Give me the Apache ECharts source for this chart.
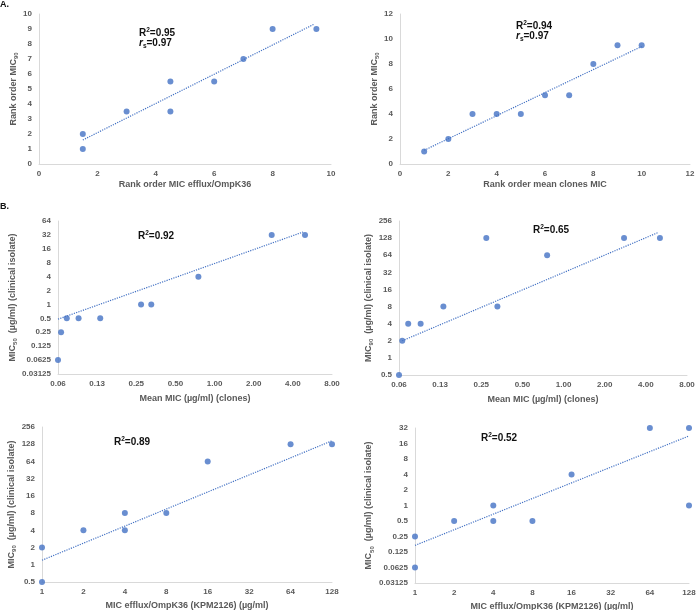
<!DOCTYPE html>
<html><head><meta charset="utf-8">
<script src="https://cdn.jsdelivr.net/npm/echarts@6/dist/echarts.min.js"></script>
<style>html,body{margin:0;padding:0;background:#fff}#c{width:696px;height:610px}</style>
</head><body><div id="c"></div>
<script>
// ---- Data ----
// Panel A (left): rank order
const a1X = [1.5, 1.5, 3, 4.5, 4.5, 6, 7, 8, 9.5];
const a1Y = [1, 2, 3.5, 3.5, 5.5, 5.5, 7, 9, 9];
const a1Trend = [[1.5, 1.6], [9.4, 9.3]];
// Panel A (right)
const a2X = [1, 2, 3, 4, 5, 6, 7, 8, 9, 10];
const a2Y = [1, 2, 4, 4, 4, 5.5, 5.5, 8, 9.5, 9.5];
const a2Trend = [[1, 1.1], [10, 9.4]];
// Panel B: mean MIC of clones
const b1X = [0.0625, 0.066, 0.073, 0.09, 0.132, 0.272, 0.326, 0.751, 2.75, 4.96];
const b1Y = [0.0625, 0.25, 0.5, 0.5, 0.5, 1, 1, 4, 32, 32];
const b1Trend = [[0.0625, 0.48], [4.8, 37]];
const b2X = [0.0625, 0.066, 0.073, 0.09, 0.132, 0.272, 0.328, 0.758, 2.77, 5.07];
const b2Y = [0.5, 2, 4, 4, 8, 128, 8, 64, 128, 128];
const b2Trend = [[0.066, 2.0], [4.9, 160]];
// Panel B: MIC efflux/OmpK36
const b3X = [1, 1, 2, 4, 4, 8, 16, 64, 128];
const b3Y = [0.5, 2, 4, 4, 8, 8, 64, 128, 128];
const b3Trend = [[1, 1.2], [128, 147]];
const b4X = [1, 1, 2, 4, 4, 8, 16, 64, 128, 128];
const b4Y = [0.0625, 0.25, 0.5, 0.5, 1, 0.5, 4, 32, 32, 1];
const b4Trend = [[1, 0.168], [128, 22.4]];
// Tick labels for log2 axes
const ticksMeanMic = ['0.06', '0.13', '0.25', '0.50', '1.00', '2.00', '4.00', '8.00']; // 2^-4 .. 2^3
const ticksEfflux = ['1', '2', '4', '8', '16', '32', '64', '128'];                      // 2^0 .. 2^7
const ticksB1Y = ['0.03125', '0.0625', '0.125', '0.25', '0.5', '1', '2', '4', '8', '16', '32', '64']; // 2^-5..2^6
const ticksB2Y = ['0.5', '1', '2', '4', '8', '16', '32', '64', '128', '256'];          // 2^-1..2^8
const ticksB3Y = ['0.5', '1', '2', '4', '8', '16', '32', '64', '128', '256'];          // 2^-1..2^8
const ticksB4Y = ['0.03125', '0.0625', '0.125', '0.25', '0.5', '1', '2', '4', '8', '16', '32']; // 2^-5..2^5
// Annotations
const r2Labels = ['0.95', '0.94', '0.92', '0.65', '0.89', '0.52'];
const rsLabels = ['0.97', '0.97'];

// ---- Styling ----
const FONT = '"Liberation Sans", Arial, sans-serif';
const GRAY = '#595959';
const BLUE = '#4472c4';
const richName = {
  m: {fontFamily: FONT, fontWeight: 'bold', fontSize: 9, color: GRAY, lineHeight: 12},
  s: {fontFamily: FONT, fontWeight: 'bold', fontSize: 6, color: GRAY, verticalAlign: 'bottom', lineHeight: 10}
};

function logFmt(labels, minExp) {
  return v => { const i = Math.round(Math.log2(v)) - minExp; return labels[i] !== undefined ? labels[i] : ''; };
}

const grids = [
  {left: 39, top: 14, width: 292, height: 150},
  {left: 400, top: 14, width: 290, height: 150},
  {left: 58, top: 221, width: 274, height: 153},
  {left: 399, top: 221, width: 288, height: 154},
  {left: 42, top: 427, width: 290, height: 155},
  {left: 415, top: 428, width: 274, height: 155}
];

function axisBase() {
  return {
    axisLine: {show: true, lineStyle: {color: '#d9d9d9', width: 1}},
    axisTick: {show: false},
    splitLine: {show: false},
    nameLocation: 'middle',
    nameTextStyle: {rich: richName},
    axisLabel: {fontFamily: FONT, fontWeight: 'bold', fontSize: 8, color: GRAY, showMinLabel: true, showMaxLabel: true, hideOverlap: false}
  };
}

const xAxes = [
  Object.assign(axisBase(), {gridIndex: 0, type: 'value', min: 0, max: 10, interval: 2, name: '{m|Rank order MIC efflux/OmpK36}', nameGap: 15}),
  Object.assign(axisBase(), {gridIndex: 1, type: 'value', min: 0, max: 12, interval: 2, name: '{m|Rank order mean clones MIC}', nameGap: 15}),
  Object.assign(axisBase(), {gridIndex: 2, type: 'log', logBase: 2, min: 0.0625, max: 8, interval: 1, name: '{m|Mean MIC (µg/ml) (clones)}', nameGap: 19}),
  Object.assign(axisBase(), {gridIndex: 3, type: 'log', logBase: 2, min: 0.0625, max: 8, interval: 1, name: '{m|Mean MIC (µg/ml) (clones)}', nameGap: 19}),
  Object.assign(axisBase(), {gridIndex: 4, type: 'log', logBase: 2, min: 1, max: 128, interval: 1, name: '{m|MIC efflux/OmpK36 (KPM2126) (µg/ml)}', nameGap: 18}),
  Object.assign(axisBase(), {gridIndex: 5, type: 'log', logBase: 2, min: 1, max: 128, interval: 1, name: '{m|MIC efflux/OmpK36 (KPM2126) (µg/ml)}', nameGap: 18})
];
xAxes.forEach(a => { a.axisLabel.margin = 6; });
xAxes[2].axisLabel.formatter = logFmt(ticksMeanMic, -4);
xAxes[3].axisLabel.formatter = logFmt(ticksMeanMic, -4);
xAxes[4].axisLabel.formatter = logFmt(ticksEfflux, 0);
xAxes[5].axisLabel.formatter = logFmt(ticksEfflux, 0);

const yAxes = [
  Object.assign(axisBase(), {gridIndex: 0, type: 'value', min: 0, max: 10, interval: 1, name: '{m|Rank order MIC}{s|90}', nameGap: 19}),
  Object.assign(axisBase(), {gridIndex: 1, type: 'value', min: 0, max: 12, interval: 2, name: '{m|Rank order MIC}{s|50}', nameGap: 19}),
  Object.assign(axisBase(), {gridIndex: 2, type: 'log', logBase: 2, min: 0.03125, max: 64, interval: 1, name: '{m|MIC}{s|50}{m|  (µg/ml) (clinical isolate)}', nameGap: 38}),
  Object.assign(axisBase(), {gridIndex: 3, type: 'log', logBase: 2, min: 0.5, max: 256, interval: 1, name: '{m|MIC}{s|90}{m|  (µg/ml) (clinical isolate)}', nameGap: 24}),
  Object.assign(axisBase(), {gridIndex: 4, type: 'log', logBase: 2, min: 0.5, max: 256, interval: 1, name: '{m|MIC}{s|90}{m|  (µg/ml) (clinical isolate)}', nameGap: 24}),
  Object.assign(axisBase(), {gridIndex: 5, type: 'log', logBase: 2, min: 0.03125, max: 32, interval: 1, name: '{m|MIC}{s|50}{m|  (µg/ml) (clinical isolate)}', nameGap: 40})
];
yAxes.forEach(a => { a.axisLabel.margin = 7; });
yAxes[2].axisLabel.formatter = logFmt(ticksB1Y, -5);
yAxes[3].axisLabel.formatter = logFmt(ticksB2Y, -1);
yAxes[4].axisLabel.formatter = logFmt(ticksB3Y, -1);
yAxes[5].axisLabel.formatter = logFmt(ticksB4Y, -5);

const panels = [[a1X, a1Y, a1Trend], [a2X, a2Y, a2Trend], [b1X, b1Y, b1Trend], [b2X, b2Y, b2Trend], [b3X, b3Y, b3Trend], [b4X, b4Y, b4Trend]];
const series = [];
panels.forEach((p, i) => {
  series.push({type: 'line', xAxisIndex: i, yAxisIndex: i, data: p[2], symbol: 'none', silent: true, z: 1,
    lineStyle: {color: BLUE, width: 1.2, type: 'dotted'}});
  series.push({type: 'scatter', xAxisIndex: i, yAxisIndex: i, data: p[0].map((x, k) => [x, p[1][k]]),
    symbol: 'circle', symbolSize: 6, itemStyle: {color: BLUE}, z: 3});
});

const annRich = {
  b: {fontFamily: FONT, fontWeight: 'bold', fontSize: 10, fill: '#111', lineHeight: 13},
  bi: {fontFamily: FONT, fontWeight: 'bold', fontStyle: 'italic', fontSize: 10, fill: '#111', lineHeight: 13},
  sup: {fontFamily: FONT, fontWeight: 'bold', fontSize: 6.5, fill: '#111', verticalAlign: 'top', lineHeight: 13},
  sub: {fontFamily: FONT, fontWeight: 'bold', fontSize: 6.5, fill: '#111', verticalAlign: 'bottom', lineHeight: 12}
};
function ann(x, y, txt) {
  return {type: 'text', left: x, top: y, style: {text: txt, rich: annRich, font: 'bold 10px ' + FONT}};
}
const r2Pos = [[139, 27], [516, 20], [138, 230], [533, 224], [114, 436], [481, 432]];
const graphic = [];
r2Pos.forEach((p, i) => graphic.push(ann(p[0], p[1], '{b|R}{sup|2}{b|=' + r2Labels[i] + '}')));
graphic.push(ann(139, 38, '{bi|r}{sub|s}{b|=' + rsLabels[0] + '}'));
graphic.push(ann(516, 31, '{bi|r}{sub|s}{b|=' + rsLabels[1] + '}'));
graphic.push({type: 'text', left: 0, top: 0, style: {text: 'A.', font: 'bold 9px ' + FONT, fill: '#111'}});
graphic.push({type: 'text', left: 0, top: 202, style: {text: 'B.', font: 'bold 9px ' + FONT, fill: '#111'}});

const chart = echarts.init(document.getElementById('c'), null, {renderer: 'canvas'});
chart.setOption({
  animation: false,
  backgroundColor: '#fff',
  grid: grids.map(g => Object.assign({containLabel: false, outerBoundsMode: 'none'}, g)),
  xAxis: xAxes,
  yAxis: yAxes,
  series: series,
  graphic: graphic
});
</script></body></html>
